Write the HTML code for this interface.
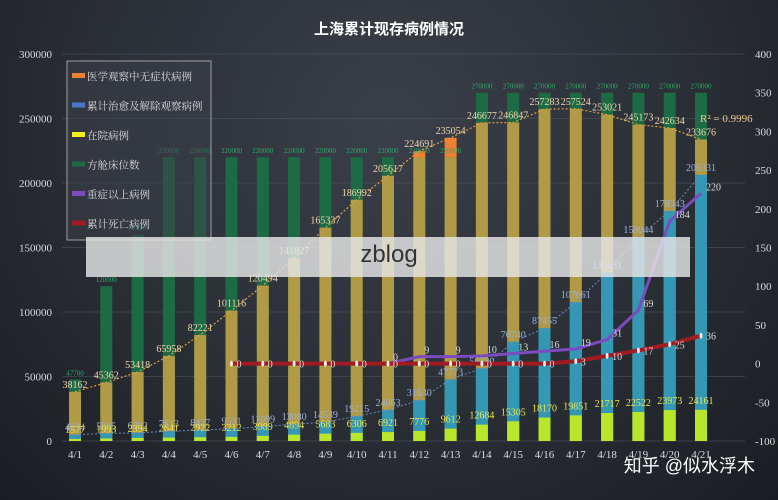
<!DOCTYPE html>
<html><head><meta charset="utf-8"><style>
html,body{margin:0;padding:0;}
body{width:778px;height:500px;overflow:hidden;background:radial-gradient(ellipse at 50% 25%,#3a3f49 0%,#2a2e35 55%,#1a1d22 100%);font-family:"Liberation Serif","Noto Serif CJK SC",serif;}
svg{position:absolute;left:0;top:0;}
</style></head><body>
<svg id="c" width="778" height="500"></svg>
<script>
const categories=["4/1","4/2","4/3","4/4","4/5","4/6","4/7","4/8","4/9","4/10","4/11","4/12","4/13","4/14","4/15","4/16","4/17","4/18","4/19","4/20","4/21"];
const totalCases=[38162,45362,53418,65958,82221,101116,120494,141827,165337,186992,205617,224691,235054,246677,246847,257283,257524,253021,245173,242634,233676];
const asymptomaticObs=[0,0,0,0,0,0,0,0,0,0,0,5000,15000,0,0,0,0,0,0,0,0];
const curedCum=[4934,5905,6292,7613,8437,9531,11099,13080,14539,19215,24063,31630,47773,56380,76740,87455,107661,130451,158044,178343,206331];
const hospital=[1577,1993,2394,2641,2922,3212,3989,4894,5683,6306,6921,7776,9612,12684,15305,18170,19851,21717,22522,23973,24161];
const beds=[47700,120000,160000,220000,220000,220000,220000,220000,220000,220000,220000,220000,220000,270000,270000,270000,270000,270000,270000,270000,270000];
const severe=[null,null,null,null,null,null,null,null,null,null,0,9,9,10,13,16,19,31,69,184,220];
const deaths=[null,null,null,null,null,0,0,0,0,0,0,0,0,0,0,0,3,10,17,25,36];
const leftTicks=[0,50000,100000,150000,200000,250000,300000];
const rightTicks=[-100,-50,0,50,100,150,200,250,300,350,400];

const svg=document.getElementById('c');
const NS='http://www.w3.org/2000/svg';
function el(t,a,p){const e=document.createElementNS(NS,t);for(const k in a)e.setAttribute(k,a[k]);(p||svg).appendChild(e);return e;}
const x0=62,x1=745,yTop=54,yBot=441;
const xs=i=>75+i*(701-75)/(categories.length-1);
const yL=v=>yBot-(v/300000)*(yBot-yTop);
const yR=v=>yBot-((v+100)/500)*(yBot-yTop);
const bw=12;

const title=el('text',{x:389,y:34,'text-anchor':'middle',fill:'#fff','font-size':15,'font-weight':'bold','font-family':'"Liberation Sans","Noto Sans CJK SC",sans-serif'});
title.textContent='上海累计现存病例情况';


leftTicks.forEach(v=>{
 const g=el('line',{x1:x0,x2:x1,y1:yL(v),y2:yL(v),stroke:'#555b66','stroke-width':0.6});
 
 const t=el('text',{x:52,y:yL(v)+4,'text-anchor':'end',fill:'#ddd','font-size':11});t.textContent=v;
 
});
rightTicks.forEach(v=>{
 const t=el('text',{x:755,y:yR(v)+4,fill:'#ddd','font-size':11});t.textContent=v;
 
});
categories.forEach((c,i)=>{
 const t=el('text',{x:xs(i),y:458,'text-anchor':'middle',fill:'#ddd','font-size':11});t.textContent=c;
 
});

categories.forEach((c,i)=>{
 const x=xs(i)-bw/2;
 let r=el('rect',{x,y:yL(beds[i]),width:bw,height:yBot-yL(beds[i]),fill:'#1d6b45'});
 
 const top=totalCases[i]-asymptomaticObs[i];
 r=el('rect',{x,y:yL(top),width:bw,height:yBot-yL(top),fill:'#b09a45'});
 
 if(asymptomaticObs[i]>0){r=el('rect',{x,y:yL(totalCases[i]),width:bw,height:yL(top)-yL(totalCases[i]),fill:'#ee8035'});
 }
 r=el('rect',{x,y:yL(curedCum[i]),width:bw,height:yBot-yL(curedCum[i]),fill:'#3497b3'});
 
 r=el('rect',{x,y:yL(hospital[i]),width:bw,height:yBot-yL(hospital[i]),fill:'#b7e62a'});
 
 let t=el('text',{x:xs(i),y:yL(beds[i])-4,'text-anchor':'middle',fill:'#2faa6a','font-size':7});t.textContent=beds[i];
 
 t=el('text',{x:xs(i),y:yL(totalCases[i])-4,'text-anchor':'middle',fill:'#f0d9b0','font-size':10});t.textContent=totalCases[i];
 
 t=el('text',{x:xs(i),y:yL(curedCum[i])-4,'text-anchor':'middle',fill:'#9fb0d8','font-size':10});t.textContent=curedCum[i];
 
 t=el('text',{x:xs(i),y:yL(hospital[i])-6,'text-anchor':'middle',fill:'#e8e850','font-size':10});t.textContent=hospital[i];
 
});
let p=el('polyline',{points:totalCases.map((v,i)=>xs(i)+','+yL(v)).join(' '),fill:'none',stroke:'#e0a040','stroke-width':1.2,'stroke-dasharray':'2,2'});

p=el('polyline',{points:curedCum.map((v,i)=>xs(i)+','+yL(v)).join(' '),fill:'none',stroke:'#6a8ccc','stroke-width':1,'stroke-dasharray':'2,2'});

const r2=el('text',{x:700,y:122,fill:'#f0c890','font-size':11});r2.textContent='R² = 0.9996';

function line(arr,color,name,lbl,w,dots){
 const pts=arr.map((v,i)=>v===null?null:xs(i)+','+yR(v)).filter(s=>s);
 const l=el('polyline',{points:pts.join(' '),fill:'none',stroke:color,'stroke-width':w,'stroke-linejoin':'round'});
 
 arr.forEach((v,i)=>{if(v===null)return;
  if(dots){const d=el('ellipse',{cx:xs(i),cy:yR(v),rx:1.5,ry:3,fill:'#eee'});}
  const t=el('text',{x:xs(i)+5,y:yR(v)+(lbl),fill:'#ddd','font-size':10});t.textContent=v;
  });
}
line(severe,'#7b4bc0','severe-line',-3,3,false);
line(deaths,'#a01c22','death-line',4,4,true);
const lg=el('rect',{x:67,y:61,width:144,height:179,fill:'rgba(60,64,72,0.55)',stroke:'#bbb','stroke-width':0.8});

const items=[['医学观察中无症状病例','#ee8035'],['累计治愈及解除观察病例','#4a78c8'],['在院病例','#f0f020'],['方舱床位数','#1d6b45'],['重症以上病例','#7b4bc0'],['累计死亡病例','#a01c22']];
items.forEach((it,k)=>{
 const y=76+k*29.5;
 const s=el('rect',{x:72,y:y-3,width:13,height:5,fill:it[1]});
 
 const t=el('text',{x:87,y:y+4,fill:'#ddd','font-size':10.5});t.textContent=it[0];
 
});
const wb=el('rect',{x:86,y:237,width:604,height:40,fill:'rgba(230,230,230,0.82)'});

let w=el('text',{x:389,y:262,'text-anchor':'middle',fill:'#333','font-size':24,'font-family':'"Liberation Sans",sans-serif'});w.textContent='zblog';

w=el('text',{x:755,y:472,'text-anchor':'end',fill:'#fff','font-size':18,'font-family':'"Liberation Sans","Noto Sans CJK SC",sans-serif'});w.textContent='知乎 @似水浮木';

</script>
</body></html>
